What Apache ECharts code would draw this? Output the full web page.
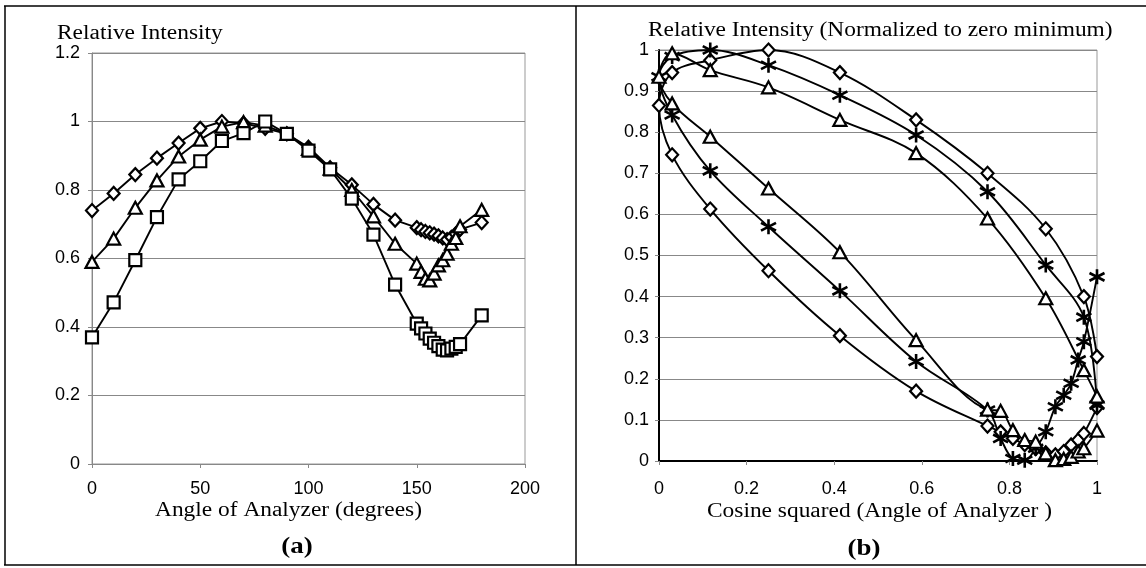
<!DOCTYPE html>
<html><head><meta charset="utf-8">
<script src="https://cdn.jsdelivr.net/npm/echarts@6.0.0/dist/echarts.min.js"></script>
<style>html,body{margin:0;padding:0;background:#fff}#c{width:1146px;height:568px}</style>
</head><body><div id="c"></div>
<script>
// ---- Panel (a): intensity vs analyzer angle ----
const angles = [0,10,20,30,40,50,60,70,80,90,100,110,120,130,140,150,152,154,156,158,160,162,164,166,168,170,180];
const leftDiamond  = [0.74,0.79,0.845,0.893,0.937,0.98,1.0,0.995,0.98,0.964,0.925,0.865,0.815,0.758,0.712,0.69,0.684,0.679,0.675,0.671,0.666,0.66,0.655,0.662,0.672,0.685,0.705];
const leftTriangle = [0.59,0.658,0.748,0.828,0.898,0.947,0.985,0.998,0.988,0.964,0.92,0.862,0.80,0.723,0.643,0.585,0.561,0.541,0.536,0.556,0.58,0.595,0.614,0.643,0.66,0.694,0.742];
const leftSquare   = [0.37,0.472,0.595,0.721,0.831,0.884,0.943,0.966,1.0,0.964,0.915,0.86,0.775,0.67,0.524,0.41,0.396,0.381,0.366,0.354,0.344,0.334,0.332,0.337,0.342,0.35,0.434];
const leftXTicks = [0,50,100,150,200];
const leftYTicks = [0,0.2,0.4,0.6,0.8,1,1.2];

// ---- Panel (b): normalized intensity vs cosine squared ----
const rightX = [1,0.97,0.883,0.75,0.587,0.413,0.25,0.117,0.03,0,0.03,0.117,0.25,0.413,0.587,0.75,0.78,0.808,0.835,0.86,0.883,0.905,0.924,0.941,0.957,0.97,1];
const rightDiamond  = [0.254,0.40,0.565,0.70,0.83,0.945,1.0,0.975,0.945,0.865,0.745,0.613,0.463,0.305,0.17,0.085,0.071,0.055,0.04,0.03,0.02,0.015,0.023,0.039,0.051,0.067,0.13];
const rightStar     = [0.136,0.35,0.477,0.655,0.793,0.89,0.963,1.0,0.984,0.935,0.842,0.706,0.57,0.414,0.242,0.124,0.055,0.006,0.002,0.031,0.071,0.132,0.16,0.189,0.246,0.29,0.448];
const rightTriangle = [0.157,0.221,0.396,0.59,0.749,0.83,0.909,0.951,0.992,0.935,0.87,0.789,0.663,0.508,0.294,0.125,0.122,0.075,0.051,0.047,0.019,0.002,0.005,0.01,0.023,0.031,0.074];
const rightXTicks = [0,0.2,0.4,0.6,0.8,1];
const rightYTicks = [0,0.1,0.2,0.3,0.4,0.5,0.6,0.7,0.8,0.9,1];

const SERIF = '"Liberation Serif", "Times New Roman", serif';
const SANS = '"Liberation Sans", Arial, sans-serif';
const STAR = 'path://M5,0L5,10M0.4,2.4L9.6,7.6M0.4,7.6L9.6,2.4';

function pairs(xs, ys){ return xs.map((x,i)=>[x, ys[i]]); }
function mk(name, gi, data, symbol, size, smooth, bw){
  return {type:'line', name, xAxisIndex:gi, yAxisIndex:gi, data, symbol, symbolSize:size,
    smooth: smooth ? 0.35 : false, clip:false, showAllSymbol:true,
    lineStyle:{color:'#000', width:1.9},
    itemStyle:{color:'#fff', borderColor:'#000', borderWidth:bw||2.2},
    emphasis:{disabled:true}, silent:true};
}
function txt(text, x, y, size, opts){
  opts = opts || {};
  return {type:'text', x, y, scaleX:1.17, z:10,
    style:{text, font:(opts.bold?'bold ':'') + size + 'px ' + SERIF, fill:'#000',
      textAlign:opts.align||'left', align:opts.align||'left',
      textVerticalAlign:'middle', verticalAlign:'middle'}};
}
function ln(x1,y1,x2,y2){
  return {type:'line', shape:{x1,y1,x2,y2}, style:{stroke:'#000', lineWidth:1.5}, z:10};
}

const chart = echarts.init(document.getElementById('c'));
const axisLabel = {color:'#000', fontFamily:SANS, fontSize:18};
chart.setOption({
  animation:false,
  backgroundColor:'#fff',
  grid:[
    {left:92, right:621, top:53, bottom:104, show:true, borderColor:'#999', borderWidth:1, containLabel:false},
    {left:659, right:49, top:50, bottom:107, show:true, borderColor:'#999', borderWidth:1, containLabel:false}
  ],
  xAxis:[
    {type:'value', gridIndex:0, min:leftXTicks[0], max:leftXTicks[leftXTicks.length-1], interval:leftXTicks[1]-leftXTicks[0],
     axisLine:{show:true, lineStyle:{color:'#888', width:1}},
     axisTick:{show:true, length:4, lineStyle:{color:'#888'}},
     axisLabel:Object.assign({margin:16}, axisLabel), splitLine:{show:false}},
    {type:'value', gridIndex:1, min:rightXTicks[0], max:rightXTicks[rightXTicks.length-1], interval:0.2,
     axisLine:{show:true, lineStyle:{color:'#000', width:2}},
     axisTick:{show:true, length:4, lineStyle:{color:'#888'}},
     axisLabel:Object.assign({margin:19}, axisLabel), splitLine:{show:false}}
  ],
  yAxis:[
    {type:'value', gridIndex:0, min:leftYTicks[0], max:leftYTicks[leftYTicks.length-1], interval:0.2,
     axisLine:{show:true, lineStyle:{color:'#888', width:1}},
     axisTick:{show:true, length:4, lineStyle:{color:'#888'}},
     axisLabel:Object.assign({margin:12}, axisLabel),
     splitLine:{show:true, lineStyle:{color:'#888', width:1}}},
    {type:'value', gridIndex:1, min:rightYTicks[0], max:rightYTicks[rightYTicks.length-1], interval:0.1,
     axisLine:{show:true, lineStyle:{color:'#000', width:2}},
     axisTick:{show:true, length:4, lineStyle:{color:'#888'}},
     axisLabel:Object.assign({margin:10}, axisLabel),
     splitLine:{show:true, lineStyle:{color:'#888', width:1}}}
  ],
  series:[
    mk('Diamond (a)', 0, pairs(angles, leftDiamond), 'diamond', [12,13], false),
    mk('Triangle (a)', 0, pairs(angles, leftTriangle), 'triangle', [13,12], false),
    mk('Square (a)', 0, pairs(angles, leftSquare), 'rect', 12, false),
    mk('Diamond (b)', 1, pairs(rightX, rightDiamond), 'diamond', [12,13], true),
    mk('Star (b)', 1, pairs(rightX, rightStar), STAR, 15, true, 2.6),
    mk('Triangle (b)', 1, pairs(rightX, rightTriangle), 'triangle', [13,12], true)
  ],
  graphic:[
    ln(4,6,1146,6), ln(5,6,5,565), ln(4,565,1146,565), ln(576,6,576,565),
    txt('Relative Intensity', 57, 34, 20),
    txt('Relative Intensity (Normalized to zero minimum)', 648, 31, 20),
    txt('Angle of Analyzer (degrees)', 155, 511, 20),
    txt('Cosine squared (Angle of Analyzer )', 707, 512, 20),
    txt('(a)', 297, 547, 23, {bold:true, align:'center'}),
    txt('(b)', 864, 549, 23, {bold:true, align:'center'})
  ]
});
</script>
</body></html>
